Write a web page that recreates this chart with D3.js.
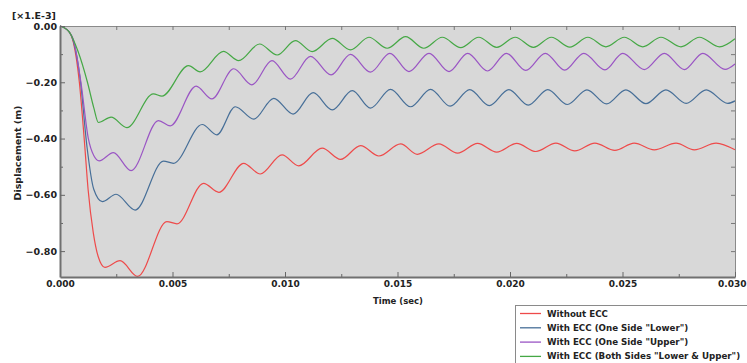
<!DOCTYPE html>
<html>
<head>
<meta charset="utf-8">
<script src="https://cdn.jsdelivr.net/npm/d3@7"></script>
<style>
  body { margin: 0; background: #fff; }
  text { font-family: "DejaVu Sans", Verdana, sans-serif; }
</style>
</head>
<body>
<svg id="chart" width="747" height="363"></svg>
<script>
// displacement in 1e-3 m as [time (s), value] at turning points
const withoutEcc = [[0,0],[0.0004,-0.02],[0.0006,-0.06],[0.00086,-0.2],[0.00108,-0.405],[0.00125,-0.582],[0.00148,-0.735],[0.0017,-0.82],
  [0.002,-0.858],[0.00267,-0.834],[0.00345,-0.89],[0.00475,-0.695],[0.0052,-0.703],[0.00638,-0.559],[0.00706,-0.591],
  [0.00816,-0.488],[0.0089,-0.526],[0.00987,-0.458],[0.01061,-0.497],[0.01165,-0.434],[0.01247,-0.474],[0.01336,-0.425],
  [0.01417,-0.462],[0.01514,-0.419],[0.01588,-0.456],[0.01684,-0.419],[0.01767,-0.452],[0.01856,-0.417],[0.01941,-0.448],
  [0.0203,-0.417],[0.02115,-0.446],[0.02204,-0.416],[0.02288,-0.444],[0.02377,-0.416],[0.02466,-0.442],[0.02552,-0.416],
  [0.02641,-0.44],[0.02738,-0.416],[0.02819,-0.44],[0.02916,-0.416],[0.03,-0.44]];

const eccLower = [[0,0],[0.0004,-0.02],[0.0006,-0.055],[0.0009,-0.19],[0.0012,-0.43],[0.0015,-0.58],[0.00188,-0.624],
  [0.00249,-0.598],[0.00334,-0.654],[0.0046,-0.48],[0.00504,-0.488],[0.00632,-0.35],[0.00697,-0.387],[0.00779,-0.287],
  [0.00861,-0.331],[0.0095,-0.257],[0.01036,-0.313],[0.01125,-0.237],[0.0121,-0.298],[0.01299,-0.23],[0.0138,-0.292],
  [0.01469,-0.225],[0.01558,-0.287],[0.01647,-0.225],[0.01734,-0.285],[0.01821,-0.226],[0.01908,-0.283],[0.01995,-0.226],
  [0.02081,-0.281],[0.02168,-0.226],[0.02255,-0.279],[0.02342,-0.227],[0.02429,-0.277],[0.02515,-0.227],[0.02604,-0.276],
  [0.02693,-0.227],[0.02783,-0.275],[0.02872,-0.227],[0.02968,-0.275],[0.03,-0.266]];

const eccUpper = [[0,0],[0.0004,-0.02],[0.0006,-0.05],[0.00093,-0.2],[0.00126,-0.4],[0.0015,-0.46],[0.00174,-0.479],
  [0.00237,-0.45],[0.00316,-0.514],[0.00438,-0.336],[0.0049,-0.355],[0.00605,-0.214],[0.00675,-0.259],[0.00772,-0.152],
  [0.00853,-0.209],[0.00942,-0.123],[0.01024,-0.189],[0.01113,-0.108],[0.01205,-0.174],[0.01291,-0.101],[0.0138,-0.164],
  [0.01466,-0.097],[0.01551,-0.162],[0.0164,-0.097],[0.01729,-0.162],[0.01812,-0.097],[0.019,-0.16],[0.01984,-0.097],
  [0.0207,-0.158],[0.02157,-0.097],[0.02243,-0.157],[0.02328,-0.097],[0.02422,-0.156],[0.02501,-0.097],[0.02597,-0.155],
  [0.02686,-0.097],[0.02775,-0.155],[0.02857,-0.097],[0.02956,-0.154],[0.03,-0.135]];

const eccBoth = [[0,0],[0.0004,-0.02],[0.0008,-0.09],[0.00122,-0.2],[0.0015,-0.29],[0.00171,-0.343],[0.00227,-0.324],
  [0.00297,-0.361],[0.00415,-0.241],[0.00453,-0.249],[0.00571,-0.141],[0.00623,-0.163],[0.00726,-0.09],[0.00794,-0.123],
  [0.00887,-0.064],[0.00965,-0.103],[0.01046,-0.052],[0.01121,-0.091],[0.0121,-0.044],[0.01291,-0.085],[0.01373,-0.04],
  [0.01454,-0.079],[0.01536,-0.038],[0.01617,-0.079],[0.01699,-0.04],[0.01781,-0.077],[0.01861,-0.04],[0.01941,-0.076],
  [0.02023,-0.04],[0.02104,-0.076],[0.02184,-0.04],[0.02266,-0.075],[0.02346,-0.04],[0.02426,-0.074],[0.02508,-0.04],
  [0.0259,-0.074],[0.02671,-0.04],[0.0276,-0.074],[0.02842,-0.04],[0.02931,-0.074],[0.03,-0.045]];

const seriesNames = ["Without ECC", "With ECC (One Side \"Lower\")", "With ECC (One Side \"Upper\")", "With ECC (Both Sides \"Lower & Upper\")"];
const seriesColors = ["#ee4a4a", "#476f98", "#9a55c4", "#45a845"];
const xMajor = [0, 0.005, 0.010, 0.015, 0.020, 0.025, 0.030];
const xMinor = [0.0025, 0.0075, 0.0125, 0.0175, 0.0225, 0.0275];
const yMajor = [0, -0.2, -0.4, -0.6, -0.8];
const yMinor = [-0.1, -0.3, -0.5, -0.7];

const allSeries = [withoutEcc, eccLower, eccUpper, eccBoth];

var margin = {top: 26, right: 12, bottom: 86, left: 60},
    width = 747 - margin.left - margin.right,
    height = 363 - margin.top - margin.bottom;

var svg = d3.select("#chart");
var g = svg.append("g")
  .attr("transform", "translate(" + margin.left + "," + margin.top + ")");

var x = d3.scaleLinear().domain([0, 0.030]).range([0, width]);
var y = d3.scaleLinear().domain([-0.892, 0]).range([height, 0]);

g.append("rect")
  .attr("width", width).attr("height", height)
  .attr("fill", "#d8d8d8");

// lines
var line = d3.line()
  .x(function(d){ return x(d[0]); })
  .y(function(d){ return y(d[1]); })
  .curve(d3.curveMonotoneX);

g.selectAll(".series")
  .data(allSeries)
  .enter()
  .append("path")
    .attr("class", "series")
    .attr("d", line)
    .attr("fill", "none")
    .attr("stroke", function(d, i){ return seriesColors[i]; })
    .attr("stroke-width", 1.2);

// frame: top and right edges with ticks, no labels
g.append("g")
  .call(d3.axisTop(x).tickValues(xMajor.concat(xMinor)).tickSize(-4).tickSizeOuter(0).tickFormat(""))
  .call(function(a){ a.select(".domain").attr("stroke", "#8a8a8a"); a.selectAll(".tick line").attr("stroke", "#777"); });
g.append("g")
  .attr("transform", "translate(" + width + ",0)")
  .call(d3.axisRight(y).tickValues(yMajor.concat(yMinor)).tickSize(-4).tickSizeOuter(0).tickFormat(""))
  .call(function(a){ a.select(".domain").attr("stroke", "#8a8a8a"); a.selectAll(".tick line").attr("stroke", "#777"); });

// minor ticks on the labelled axes
g.append("g")
  .attr("transform", "translate(0," + height + ")")
  .call(d3.axisBottom(x).tickValues(xMinor).tickSize(-3).tickSizeOuter(0).tickFormat(""))
  .call(function(a){ a.select(".domain").remove(); a.selectAll(".tick line").attr("stroke", "#666"); });
g.append("g")
  .call(d3.axisLeft(y).tickValues(yMinor).tickSize(-3).tickSizeOuter(0).tickFormat(""))
  .call(function(a){ a.select(".domain").remove(); a.selectAll(".tick line").attr("stroke", "#666"); });

// bottom axis
var xAxis = g.append("g")
  .attr("transform", "translate(0," + height + ")")
  .call(d3.axisBottom(x).tickValues(xMajor).tickSize(-5).tickSizeOuter(0).tickPadding(4).tickFormat(d3.format(".3f")));
xAxis.select(".domain").attr("stroke", "#707070").attr("stroke-width", 2);
xAxis.selectAll(".tick line").attr("stroke", "#666");
xAxis.selectAll("text")
  .attr("font-size", "9px").attr("font-weight", "bold").attr("fill", "#222")
  .attr("font-family", "DejaVu Sans");
// last label sits inside the window, right aligned
xAxis.selectAll(".tick").filter(function(d){ return d === 0.030; }).select("text")
  .attr("text-anchor", "end").attr("x", 11);

// left axis
var yAxis = g.append("g")
  .call(d3.axisLeft(y).tickValues(yMajor).tickSize(-5).tickSizeOuter(0).tickPadding(3).tickFormat(d3.format(".2f")));
yAxis.select(".domain").attr("stroke", "#707070").attr("stroke-width", 2);
yAxis.selectAll(".tick line").attr("stroke", "#666");
yAxis.selectAll("text")
  .attr("font-size", "9.5px").attr("font-weight", "bold").attr("fill", "#222")
  .attr("font-family", "DejaVu Sans");

// titles
svg.append("text")
  .attr("x", 12).attr("y", 19)
  .text("[\u00d71.E-3]")
  .attr("font-size", "9.5px").attr("font-weight", "bold").attr("fill", "#222");

svg.append("text")
  .attr("transform", "translate(21,153) rotate(-90)")
  .attr("text-anchor", "middle")
  .text("Displacement (m)")
  .attr("font-size", "9.5px").attr("font-weight", "bold").attr("fill", "#222");

svg.append("text")
  .attr("x", 373).attr("y", 304)
  .text("Time (sec)")
  .attr("font-size", "8.5px").attr("font-weight", "bold").attr("fill", "#222");

// legend
var legend = svg.append("g").attr("transform", "translate(515,305)");
legend.append("rect")
  .attr("x", 0.5).attr("y", 0.5).attr("width", 240).attr("height", 70)
  .attr("fill", "#fff").attr("stroke", "#8a8a8a");

var item = legend.selectAll(".item")
  .data(seriesNames)
  .enter()
  .append("g")
    .attr("class", "item")
    .attr("transform", function(d, i){ return "translate(0," + (8.5 + i * 14.3) + ")"; });

item.append("line")
  .attr("x1", 5).attr("x2", 26)
  .attr("stroke", function(d, i){ return seriesColors[i]; })
  .attr("stroke-width", 1.3);

item.append("text")
  .attr("x", 32).attr("dy", "0.35em")
  .text(function(d){ return d; })
  .attr("font-family", "Liberation Sans, Arial, sans-serif")
  .attr("font-size", "8.7px").attr("font-weight", "bold").attr("fill", "#222");
</script>
</body>
</html>
